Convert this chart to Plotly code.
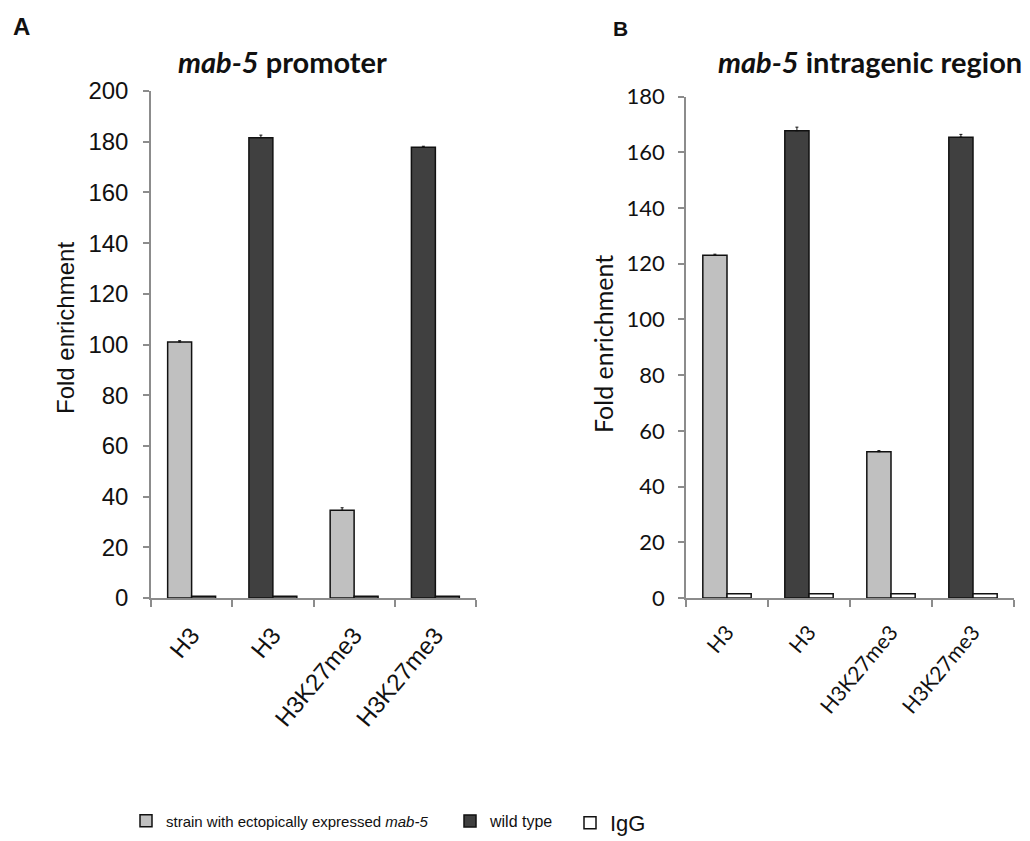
import plotly.graph_objects as go

# ---------------- data ----------------
categories = ["H3", "H3", "H3K27me3", "H3K27me3"]
cat_pos = [0, 1, 2, 3]

# Panel A: mab-5 promoter
a_strain = [101.0, None, 34.6, None]
a_strain_err = [0.5, 0, 1.0, 0]
a_wild = [None, 181.6, None, 177.8]
a_wild_err = [0, 1.0, 0, 0.4]
a_igg = [0.7, 0.7, 0.7, 0.7]

# Panel B: mab-5 intragenic region
b_strain = [123.0, None, 52.5, None]
b_strain_err = [0.4, 0, 0.4, 0]
b_wild = [None, 167.7, None, 165.4]
b_wild_err = [0, 1.3, 0, 1.0]
b_igg = [1.5, 1.5, 1.5, 1.5]

series_names = ["strain with ectopically expressed <i>mab-5</i>", "wild type", "IgG"]
series_colors = ["#c0c0c0", "#404040", "#ffffff"]

W, H = 1030, 841

def px_x(p):
    return p / W

def px_y(p):
    return 1 - p / H

fig = go.Figure()

panels = [
    dict(xa="x", ya="y", strain=a_strain, serr=a_strain_err, wild=a_wild, werr=a_wild_err, igg=a_igg, show=True),
    dict(xa="x2", ya="y2", strain=b_strain, serr=b_strain_err, wild=b_wild, werr=b_wild_err, igg=b_igg, show=False),
]

for p in panels:
    fig.add_trace(go.Bar(
        x=cat_pos, y=p["strain"], name=series_names[0], offsetgroup="main",
        marker=dict(color=series_colors[0], line=dict(color="#111111", width=1.5)),
        error_y=dict(type="data", symmetric=False, array=p["serr"], arrayminus=[0, 0, 0, 0],
                     color="#111111", thickness=1, width=1.5),
        xaxis=p["xa"], yaxis=p["ya"], showlegend=p["show"], legend="legend",
    ))
    fig.add_trace(go.Bar(
        x=cat_pos, y=p["wild"], name=series_names[1], offsetgroup="main",
        marker=dict(color=series_colors[1], line=dict(color="#111111", width=1.5)),
        error_y=dict(type="data", symmetric=False, array=p["werr"], arrayminus=[0, 0, 0, 0],
                     color="#111111", thickness=1, width=1.5),
        xaxis=p["xa"], yaxis=p["ya"], showlegend=p["show"], legend="legend2",
    ))
    fig.add_trace(go.Bar(
        x=cat_pos, y=p["igg"], name=series_names[2], offsetgroup="igg",
        marker=dict(color=series_colors[2], line=dict(color="#111111", width=1.5)),
        xaxis=p["xa"], yaxis=p["ya"], showlegend=p["show"], legend="legend3",
    ))

axis_gray = "#8c8c8c"
fontA = "Liberation Sans, Arial, sans-serif"
fontB = "Lato, Open Sans, sans-serif"
txt = "#111111"

def xaxis_cfg(domain, anchor, font, size, angle):
    return dict(
        domain=domain, anchor=anchor, automargin=False, range=[-0.5, 3.5],
        showline=True, linecolor=axis_gray, linewidth=1.5,
        showgrid=False, zeroline=False,
        tickmode="array", tickvals=cat_pos, ticktext=categories,
        ticks="outside", ticklen=12, tickcolor="rgba(0,0,0,0)",
        tickangle=angle, tickfont=dict(family=font, size=size, color=txt),
        minor=dict(tickmode="array", tickvals=[-0.5, 0.5, 1.5, 2.5, 3.5], ticks="outside",
                   ticklen=7, tickcolor=axis_gray, tickwidth=1.5),
        fixedrange=True,
    )

def yaxis_cfg(domain, anchor, rng, font, size, labstand):
    return dict(
        domain=domain, anchor=anchor, automargin=False, range=rng, dtick=20, tick0=0,
        showline=True, linecolor=axis_gray, linewidth=1.5,
        showgrid=False, zeroline=False, ticks="outside", ticklen=6, tickcolor=axis_gray, tickwidth=1.5,
        tickfont=dict(family=font, size=size, color=txt),
        ticklabelstandoff=labstand,
        fixedrange=True,
    )

def ann(text, x, y, font, size, angle=0):
    return dict(text=text, x=px_x(x), y=px_y(y), xref="paper", yref="paper", showarrow=False,
                xanchor="center", yanchor="middle", textangle=angle,
                font=dict(family=font, size=size, color=txt))

fig.update_layout(
    template="none",
    width=W, height=H,
    margin=dict(l=0, r=0, t=0, b=0, autoexpand=False),
    paper_bgcolor="white", plot_bgcolor="white",
    barmode="group", bargap=0.41, bargroupgap=0,
    xaxis=xaxis_cfg([px_x(151), px_x(476)], "y", fontA, 24, -50),
    yaxis=yaxis_cfg([px_y(598), px_y(91)], "x", [0, 200], fontA, 24, 10),
    xaxis2=xaxis_cfg([px_x(686), px_x(1014)], "y2", fontB, 21, -50),
    yaxis2=yaxis_cfg([px_y(598), px_y(96.5)], "x2", [0, 180], fontB, 22, 9),
    legend=dict(orientation="h", x=px_x(126), y=px_y(821), xanchor="left", yanchor="middle",
                font=dict(family=fontA, size=15, color=txt), bgcolor="rgba(0,0,0,0)"),
    legend2=dict(orientation="h", x=px_x(450), y=px_y(821), xanchor="left", yanchor="middle",
                 font=dict(family=fontA, size=16, color=txt), bgcolor="rgba(0,0,0,0)"),
    legend3=dict(orientation="h", x=px_x(570), y=px_y(823), xanchor="left", yanchor="middle",
                 font=dict(family=fontA, size=22, color=txt), bgcolor="rgba(0,0,0,0)"),
    annotations=[
        ann("<b>A</b>", 21, 27, fontA, 24),
        ann("<b>B</b>", 620, 28, fontA, 21),
        ann("<b><i>mab-5</i> promoter</b>", 282, 62, fontB, 29),
        ann("<b><i>mab-5</i> intragenic region</b>", 870, 62, fontB, 29),
        ann("Fold enrichment", 65, 328, fontA, 24, -90),
        ann("Fold enrichment", 603, 344, fontB, 25, -90),
    ],
)

fig.write_html("out.html", post_script="document.body.style.margin='0';",
               config={"displayModeBar": False})
